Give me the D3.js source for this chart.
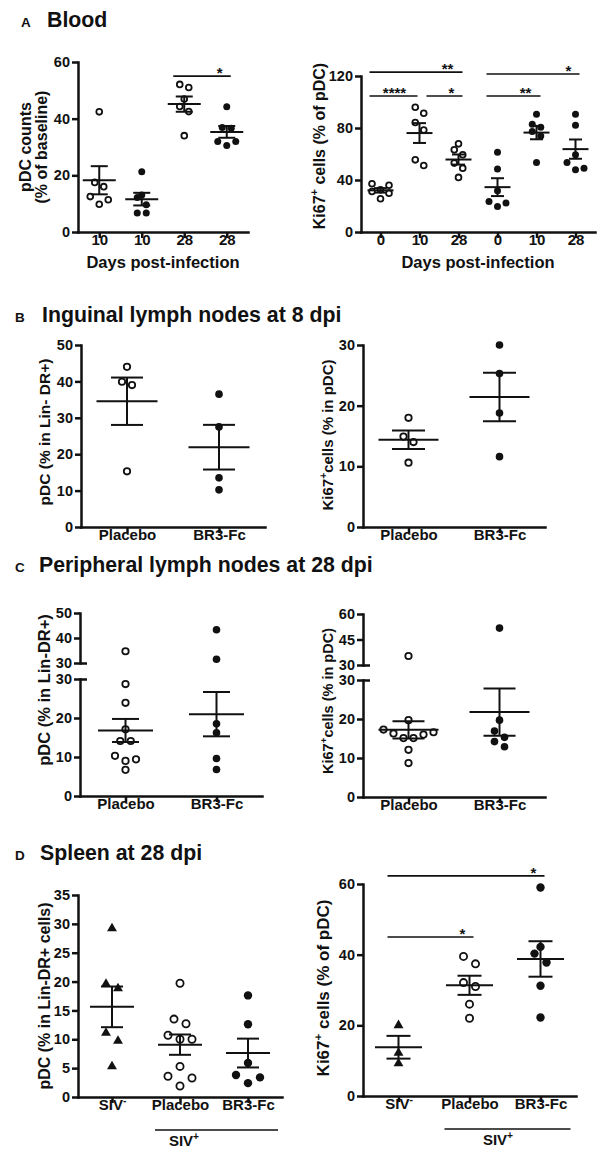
<!DOCTYPE html>
<html>
<head>
<meta charset="utf-8">
<script src="https://cdn.jsdelivr.net/npm/d3@7"></script>
<style>
body { margin: 0; background: #fff; }
svg text { font-family: "Liberation Sans", Arial, sans-serif; font-weight: bold; fill: #111; white-space: pre; }
</style>
</head>
<body>
<svg id="fig" width="606" height="1156"></svg>
<script>
// ---- data ----
// A: blood
var bloodCountDays = ["10", "10", "28", "28"];
var bloodCountValues = [
    [42.4, 17.5, 16.0, 12.5, 11.4, 9.8],
    [21.3, 13.1, 12.2, 9.6, 6.7, 6.7],
    [52.1, 51.0, 46.9, 44.3, 42.5, 34.0],
    [44.2, 36.9, 36.6, 31.9, 30.5, 31.9]
];
var bloodCountSig = [[2, 3, "*", 55]];

var bloodKi67Days = ["0", "10", "28", "0", "10", "28"];
var bloodKi67Values = [
    [37.1, 36.0, 32.5, 31.2, 29.9, 25.6],
    [96.0, 91.3, 84.2, 78.5, 55.5, 51.2],
    [67.8, 63.2, 59.4, 53.0, 49.1, 42.0],
    [61.4, 48.4, 31.7, 23.5, 22.3, 19.7],
    [90.6, 82.9, 80.6, 77.3, 73.9, 53.5],
    [90.6, 82.1, 59.4, 53.5, 49.1, 47.8]
];
var bloodKi67Sig = [[0, 2, "**", 123], [0, 1, "****", 104.6], [1, 2, "*", 104.6], [3, 5, "*", 121.5], [3, 4, "**", 104.6]];

// B: inguinal lymph nodes, 8 dpi
var treatGroups = ["Placebo", "BR3-Fc"];
var inguinalPdc = [[44.0, 39.9, 39.0, 15.3], [36.5, 27.5, 13.5, 10.2]];
var inguinalKi67 = [[18.0, 14.9, 14.0, 10.6], [30.0, 25.3, 18.8, 11.6]];

// C: peripheral lymph nodes, 28 dpi
var peripheralPdc = [[34.7, 28.7, 23.9, 17.1, 14.1, 14.1, 10.3, 9.4, 9.0, 6.7], [43.3, 31.5, 18.5, 16.2, 9.6, 6.8]];
var peripheralKi67 = [[35.3, 19.7, 17.3, 16.6, 16.3, 16.0, 15.1, 15.1, 12.1, 8.7], [51.7, 19.7, 16.9, 15.3, 14.2, 12.9]];

// D: spleen, 28 dpi
var spleenGroups = ["SIV^-", "Placebo", "BR3-Fc"];
var spleenPdc = [[29.2, 19.6, 18.8, 11.1, 9.7, 5.3], [19.7, 13.5, 12.7, 10.7, 10.0, 10.0, 5.3, 3.6, 3.3, 1.9], [17.6, 12.6, 5.9, 3.8, 3.4, 2.4]];
var spleenKi67 = [[20.0, 12.2, 9.2], [39.5, 37.4, 32.1, 31.0, 26.0, 22.0], [59.0, 42.2, 40.3, 37.8, 31.2, 22.2]];
var spleenKi67Sig = [[0, 1, "*", 45], [0, 2, "*", 62.3]];

var panelLetters = ["A", "B", "C", "D"];
var panelTitles = ["Blood", "Inguinal lymph nodes at 8 dpi", "Peripheral lymph nodes at 28 dpi", "Spleen at 28 dpi"];

var ink = "#111";
var svg = d3.select("#fig");

// text with one-character superscripts written as "^x"
function richText(sel, str, fs) {
    var parts = str.split(/\^(.)/);
    var raised = false;
    parts.forEach(function(s, k) {
        if (k % 2) {
            sel.append("tspan").attr("dy", -0.42 * fs).attr("font-size", 0.68 * fs).text(s);
            raised = true;
        } else if (s) {
            sel.append("tspan").attr("dy", raised ? 0.42 * fs : 0).text(s);
            raised = false;
        }
    });
}

function styleAxis(ax, fs) {
    ax.attr("font-family", null).attr("font-size", null);
    ax.select(".domain").attr("stroke", ink).attr("stroke-width", 2.5).attr("stroke-linecap", "square");
    ax.selectAll(".tick line").attr("stroke", ink).attr("stroke-width", 2.5);
    ax.selectAll(".tick text").attr("font-size", fs).attr("fill", ink);
}

// GraphPad-like scatter: points close in height share a row and spread sideways
function swarm(vals, y, D, gap) {
    var pts = vals.map(function(v) { return {v: v, py: y(v)}; })
        .sort(function(a, b) { return b.py - a.py; });
    var rows = [];
    pts.forEach(function(p) {
        var row = rows[rows.length - 1];
        if (row && row[0].py - p.py < gap) row.push(p); else rows.push([p]);
    });
    rows.forEach(function(row) {
        var n = row.length;
        var slots = d3.range(n).map(function(k) { return (k - (n - 1) / 2) * D; })
            .sort(function(a, b) { return Math.abs(a) - Math.abs(b) || b - a; });
        row.forEach(function(p, k) { p.dx = slots[k]; });
    });
    return pts;
}

function marker(g, kind, cx, cy, r) {
    if (kind == "triangle") {
        g.append("path").attr("d", d3.symbol(d3.symbolTriangle, r * r * 2.4)())
            .attr("transform", "translate(" + cx + "," + cy + ")").attr("fill", ink);
    } else if (kind == "open") {
        g.append("circle").attr("cx", cx).attr("cy", cy).attr("r", r - 0.6)
            .attr("fill", "#fff").attr("stroke", ink).attr("stroke-width", 1.8);
    } else {
        g.append("circle").attr("cx", cx).attr("cy", cy).attr("r", r).attr("fill", ink);
    }
}

function drawPanel(p) {
    var g = svg.append("g");
    var x = d3.scalePoint().domain(d3.range(p.cats.length)).range([p.x0, p.x1]).padding(0.5);
    var y, yAxes;
    if (p.broken) {
        var low = d3.scaleLinear().domain(p.lowDomain).range(p.lowRange);
        var high = d3.scaleLinear().domain(p.highDomain).range(p.highRange);
        y = function(v) { return v <= p.lowDomain[1] ? low(v) : high(v); };
        yAxes = [[low, p.lowTicks], [high, p.highTicks]];
    } else {
        var s = d3.scaleLinear().domain(p.domain).range(p.range);
        y = s;
        yAxes = [[s, p.ticks]];
    }
    var base = y(0);

    yAxes.forEach(function(a) {
        var ax = g.append("g").attr("transform", "translate(" + p.x0 + ",0)")
            .call(d3.axisLeft(a[0]).tickValues(a[1]).tickSize(6).tickSizeOuter(0).tickPadding(2));
        styleAxis(ax, 14.5);
    });
    if (p.broken) {
        [p.lowRange[1], p.highRange[0]].forEach(function(yy) {
            g.append("line").attr("x1", p.x0).attr("x2", p.x0 + 7).attr("y1", yy + 0.5).attr("y2", yy + 0.5)
                .attr("stroke", ink).attr("stroke-width", 2.5);
        });
    }

    var xa = g.append("g").attr("transform", "translate(0," + base + ")")
        .call(d3.axisBottom(x).tickSize(6).tickSizeOuter(0).tickPadding(7).tickFormat(function() { return ""; }));
    styleAxis(xa, 15);
    xa.selectAll(".tick text").each(function(i) { richText(d3.select(this), p.cats[i], 15); });

    // points, then mean +/- SEM on top
    p.values.forEach(function(vals, i) {
        swarm(vals, y, p.D, p.gap).forEach(function(pt) {
            marker(g, p.markers[i], x(i) + pt.dx, pt.py, p.r);
        });
        var m = d3.mean(vals), se = d3.deviation(vals) / Math.sqrt(vals.length);
        var bars = g.append("g").attr("stroke", ink).attr("stroke-width", 2);
        bars.append("line").attr("x1", x(i) - p.meanW / 2).attr("x2", x(i) + p.meanW / 2).attr("y1", y(m)).attr("y2", y(m));
        bars.append("line").attr("x1", x(i)).attr("x2", x(i)).attr("y1", y(m - se)).attr("y2", y(m + se));
        [m - se, m + se].forEach(function(v) {
            bars.append("line").attr("x1", x(i) - p.capW / 2).attr("x2", x(i) + p.capW / 2).attr("y1", y(v)).attr("y2", y(v));
        });
    });

    // significance bars
    (p.sigs || []).forEach(function(sg) {
        var i = sg[0], j = sg[1], lv = sg[3];
        var startsAfter = p.sigs.some(function(o) { return o !== sg && o[3] == lv && o[1] == i; });
        var endsBefore = p.sigs.some(function(o) { return o !== sg && o[3] == lv && o[0] == j; });
        var xa1 = x(i) + (startsAfter ? 7 : -11);
        var xa2 = x(j) + (endsBefore ? -2 : 4);
        g.append("line").attr("x1", xa1).attr("x2", xa2).attr("y1", y(lv)).attr("y2", y(lv))
            .attr("stroke", ink).attr("stroke-width", 1.6);
        g.append("text").attr("x", xa2 - sg[2].length * 4 - 7).attr("y", y(lv) + 2)
            .attr("text-anchor", "middle").attr("font-size", 15).text(sg[2]);
    });

    if (p.xTitle) {
        g.append("text").attr("x", (p.x0 + p.x1) / 2).attr("y", base + 36)
            .attr("text-anchor", "middle").attr("font-size", 16.5).text(p.xTitle);
    }

    p.yLabel.forEach(function(lab, k) {
        var t = g.append("text").attr("text-anchor", "middle").attr("font-size", p.yLabelSize)
            .attr("transform", "translate(" + p.yLabelX[k] + "," + p.yLabelY + ") rotate(-90)");
        richText(t, lab, p.yLabelSize);
    });

    if (p.groupLabel) {
        var gx1 = x(1) - 25, gx2 = x(2) + 30;
        g.append("line").attr("x1", gx1).attr("x2", gx2).attr("y1", base + 33).attr("y2", base + 33)
            .attr("stroke", ink).attr("stroke-width", 1.6);
        var t = g.append("text").attr("x", (x(1) + x(2)) / 2 + p.groupShift).attr("y", base + 49)
            .attr("text-anchor", "middle").attr("font-size", 15);
        richText(t, p.groupLabel, 15);
    }
}

// panel headings
var headY = [27, 322, 572, 860];
var letterX = [21, 15, 15, 15];
var titleX = [47, 42, 39, 40];
panelLetters.forEach(function(l, k) {
    svg.append("text").attr("x", letterX[k]).attr("y", headY[k]).attr("font-size", 13.5).text(l);
    svg.append("text").attr("x", titleX[k]).attr("y", headY[k]).attr("font-size", 21.3).text(panelTitles[k]);
});

drawPanel({
    x0: 78, x1: 248, domain: [0, 60], range: [232, 62], ticks: [0, 20, 40, 60],
    cats: bloodCountDays, values: bloodCountValues, markers: ["open", "filled", "open", "filled"],
    r: 3.5, D: 9, gap: 8, meanW: 33, capW: 17, sigs: bloodCountSig,
    xTitle: "Days post-infection",
    yLabel: ["pDC counts", "(% of baseline)"], yLabelX: [31, 47], yLabelY: 147, yLabelSize: 16
});
drawPanel({
    x0: 361, x1: 595, domain: [0, 120], range: [232, 76], ticks: [0, 40, 80, 120],
    cats: bloodKi67Days, values: bloodKi67Values, markers: ["open", "open", "open", "filled", "filled", "filled"],
    r: 3.5, D: 8.5, gap: 8, meanW: 26, capW: 13, sigs: bloodKi67Sig,
    xTitle: "Days post-infection",
    yLabel: ["Ki67^+ cells (% of pDC)"], yLabelX: [325], yLabelY: 146, yLabelSize: 16
});
drawPanel({
    x0: 81, x1: 265, domain: [0, 50], range: [527, 345], ticks: [0, 10, 20, 30, 40, 50],
    cats: treatGroups, values: inguinalPdc, markers: ["open", "filled"],
    r: 3.8, D: 10, gap: 9, meanW: 61, capW: 32,
    yLabel: ["pDC (% in Lin- DR+)"], yLabelX: [50], yLabelY: 432, yLabelSize: 15.5
});
drawPanel({
    x0: 363, x1: 545, domain: [0, 30], range: [527, 345], ticks: [0, 10, 20, 30],
    cats: treatGroups, values: inguinalKi67, markers: ["open", "filled"],
    r: 3.8, D: 10, gap: 9, meanW: 60, capW: 33,
    yLabel: ["Ki67^+cells (% in pDC)"], yLabelX: [333], yLabelY: 435, yLabelSize: 15
});
drawPanel({
    x0: 80, x1: 262, broken: true,
    lowDomain: [0, 30], lowRange: [796, 679], lowTicks: [0, 10, 20, 30],
    highDomain: [30, 50], highRange: [663, 613], highTicks: [30, 40, 50],
    cats: treatGroups, values: peripheralPdc, markers: ["open", "filled"],
    r: 3.8, D: 10.5, gap: 8.7, meanW: 55, capW: 27,
    yLabel: ["pDC (% in Lin-DR+)"], yLabelX: [50], yLabelY: 690, yLabelSize: 16.5
});
drawPanel({
    x0: 363, x1: 545, broken: true,
    lowDomain: [0, 30], lowRange: [797, 680], lowTicks: [0, 10, 20, 30],
    highDomain: [30, 60], highRange: [665, 614], highTicks: [30, 45, 60],
    cats: treatGroups, values: peripheralKi67, markers: ["open", "filled"],
    r: 3.8, D: 10, gap: 8.7, meanW: 60, capW: 32,
    yLabel: ["Ki67^+cells (% in pDC)"], yLabelX: [333], yLabelY: 701, yLabelSize: 14.5
});
drawPanel({
    x0: 78, x1: 282, domain: [0, 35], range: [1097, 895], ticks: [0, 5, 10, 15, 20, 25, 30, 35],
    cats: spleenGroups, values: spleenPdc, markers: ["triangle", "open", "filled"],
    r: 4.2, D: 12, gap: 10, meanW: 44, capW: 22,
    groupLabel: "SIV^+", groupShift: -30,
    yLabel: ["pDC (% in Lin-DR+ cells)"], yLabelX: [50], yLabelY: 996, yLabelSize: 16
});
drawPanel({
    x0: 363, x1: 576, domain: [0, 60], range: [1096, 884], ticks: [0, 20, 40, 60],
    cats: spleenGroups, values: spleenKi67, markers: ["triangle", "open", "filled"],
    r: 4.2, D: 12, gap: 10, meanW: 47, capW: 24, sigs: spleenKi67Sig,
    groupLabel: "SIV^+", groupShift: -7,
    yLabel: ["Ki67^+ cells (% of pDC)"], yLabelX: [329], yLabelY: 988, yLabelSize: 17
});
</script>
</body>
</html>
